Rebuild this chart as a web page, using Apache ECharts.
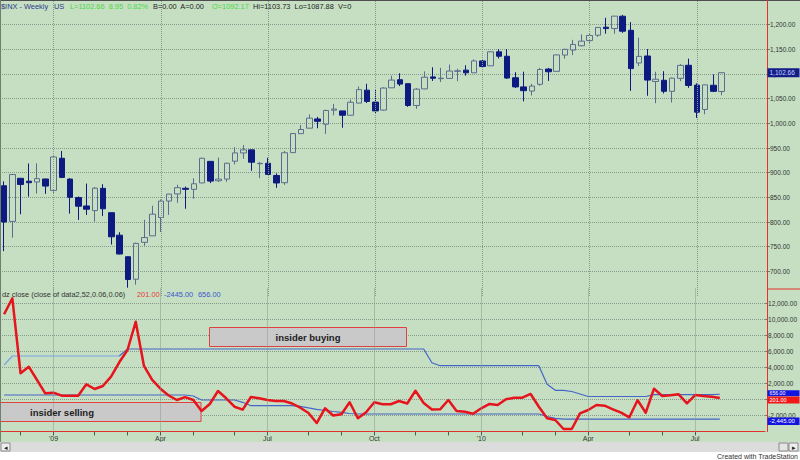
<!DOCTYPE html>
<html><head><meta charset="utf-8">
<script src="https://cdn.jsdelivr.net/npm/echarts@6/dist/echarts.min.js"></script>
<style>html,body{margin:0;padding:0;background:#fff}#c{width:800px;height:460px}</style>
</head><body><div id="c"></div>
<script>
// ---------- DATA ----------
const weeks = [
'11/21/08','11/28/08','12/05/08','12/12/08','12/19/08','12/26/08',
'01/02/09','01/09/09','01/16/09','01/23/09','01/30/09','02/06/09','02/13/09','02/20/09','02/27/09',
'03/06/09','03/13/09','03/20/09','03/27/09','04/03/09','04/10/09','04/17/09','04/24/09',
'05/01/09','05/08/09','05/15/09','05/22/09','05/29/09','06/05/09','06/12/09','06/19/09','06/26/09',
'07/03/09','07/10/09','07/17/09','07/24/09','07/31/09','08/07/09','08/14/09','08/21/09','08/28/09',
'09/04/09','09/11/09','09/18/09','09/25/09','10/02/09','10/09/09','10/16/09','10/23/09','10/30/09',
'11/06/09','11/13/09','11/20/09','11/27/09','12/04/09','12/11/09','12/18/09','12/25/09',
'01/01/10','01/08/10','01/15/10','01/22/10','01/29/10','02/05/10','02/12/10','02/19/10','02/26/10',
'03/05/10','03/12/10','03/19/10','03/26/10','04/02/10','04/09/10','04/16/10','04/23/10','04/30/10',
'05/07/10','05/14/10','05/21/10','05/28/10','06/04/10','06/11/10','06/18/10','06/25/10',
'07/02/10','07/09/10','07/16/10','07/23/10'
];
const open = [
873.5,801.2,888.6,882.7,881.1,887.2,
864.0,929.2,887.0,849.6,832.5,823.1,868.2,818.9,773.3,729.6,684.0,758.8,772.0,809.1,842.5,856.9,868.3,866.2,879.2,922.9,883.6,887.0,923.3,940.0,946.2,918.1,919.0,894.3,879.6,940.6,979.0,990.2,1008.9,998.2,1026.6,1025.2,1016.4,1041.0,1067.3,1043.0,1026.9,1072.0,1088.4,1080.4,1036.2,1069.8,1094.1,1090.5,1091.1,1105.5,1107.8,1102.5,
1126.5,1116.6,1145.0,1136.0,1092.4,1073.9,1065.5,1079.1,1110.0,1105.4,1138.4,1148.5,1157.3,1167.7,1178.7,1194.9,1192.1,1217.1,1188.6,1122.3,1136.5,1084.8,1087.3,1064.9,1091.2,1117.7,1077.5,1028.1,1077.2,1064.5
];
const high = [
882.3,896.2,888.6,918.6,918.9,887.4,
934.7,943.9,889.0,851.6,877.9,870.8,876.6,818.9,779.4,729.6,758.3,804.5,833.0,845.6,856.9,875.6,871.8,888.7,930.2,922.9,930.6,920.0,951.7,956.2,946.2,922.0,930.2,898.7,944.0,979.8,996.7,1018.0,1013.1,1027.6,1039.5,1025.2,1048.2,1074.8,1080.2,1069.6,1073.2,1096.6,1101.4,1080.4,1071.5,1105.4,1113.7,1112.4,1119.1,1110.7,1117.7,1129.6,
1130.4,1145.4,1150.4,1150.5,1103.7,1104.7,1080.0,1112.4,1112.3,1139.0,1151.0,1169.2,1180.2,1181.4,1194.7,1213.9,1217.3,1219.8,1205.1,1173.6,1150.5,1104.6,1105.7,1092.5,1120.0,1131.2,1081.0,1078.2,1099.1,1103.7
];
const low = [
741.0,768.2,815.7,851.4,857.7,857.1,
857.1,889.0,817.0,804.3,814.3,800.6,812.0,754.3,734.5,666.8,672.9,751.7,772.0,779.8,814.5,838.8,826.8,847.1,878.9,878.9,881.0,881.5,916.7,928.1,903.8,888.9,896.4,869.3,875.3,940.6,978.6,990.2,990.0,978.5,1016.2,991.0,1016.4,1040.9,1041.2,1020.0,1025.2,1072.0,1075.6,1033.4,1029.4,1069.3,1085.9,1083.7,1091.1,1085.4,1096.7,1102.5,
1114.8,1116.6,1131.4,1090.2,1071.6,1044.5,1056.5,1076.1,1086.0,1105.4,1131.3,1138.3,1156.0,1161.9,1175.1,1181.6,1181.6,1183.3,1065.8,1116.0,1055.9,1040.8,1060.5,1042.2,1085.5,1071.9,1010.9,1018.4,1063.3,1056.9
];
const close = [
800.0,896.2,876.1,879.7,887.9,872.8,
931.8,890.4,850.1,832.0,825.9,868.6,826.8,770.0,735.1,683.4,756.6,768.5,815.9,842.5,856.6,869.6,866.2,877.5,929.2,882.9,887.0,919.1,940.1,946.2,921.2,918.9,896.4,879.1,940.4,979.3,987.5,1010.5,1004.1,1026.1,1028.9,1016.4,1042.7,1068.3,1044.4,1025.2,1071.5,1087.7,1079.6,1036.2,1069.3,1093.5,1091.4,1091.5,1106.0,1106.4,1102.5,1126.5,
1115.1,1145.0,1136.0,1091.8,1073.9,1066.2,1075.5,1109.2,1104.5,1138.7,1150.0,1159.9,1166.6,1178.1,1194.4,1192.1,1217.3,1186.7,1110.9,1135.7,1087.7,1089.4,1064.9,1091.6,1117.5,1076.8,1022.6,1078.0,1064.9,1102.66
];
// dz close indicator (red) and its dynamic zones (blue)
const dzClose = [
10650,12650,3275,4100,2440,775,850,475,475,475,1900,1310,1690,2850,4650,6190,9725,4190,2440,1350,
500,-60,290,-60,-1440,-560,1060,150,-900,-1270,310,150,-60,-190,-190,-500,-1025,-1690,-2940,-1100,
-2000,-1850,-350,-2350,-1600,-350,-590,-590,-190,-500,1100,-440,-1250,-1225,-60,-1440,-1525,-1775,-1100,-560,
-690,25,225,225,690,-900,-2350,-2560,-3690,-3690,-1725,-1310,-690,-775,-1225,-1650,-2225,-100,-1650,1350,
440,525,650,-475,560,440,350,201
];
const upperZone = [
4310,5440,5440,5440,5440,5440,5440,5440,5440,5440,5440,5440,5440,5440,5440,6310,6310,6310,6310,6310,
6310,6310,6310,6310,6310,6310,6310,6310,6310,6310,6310,6310,6310,6310,6310,6310,6310,6310,6310,6310,
6310,6310,6310,6310,6310,6310,6310,6310,6310,6310,6310,6310,4600,4225,4225,4225,4225,4225,4225,4225,
4225,4225,4225,4225,4225,4225,1900,1150,1150,1000,690,375,375,375,375,375,375,375,375,600,
620,620,620,620,620,620,620,656
];
const lowerZone = [
560,560,560,560,560,560,560,560,560,560,560,560,560,560,560,560,560,560,560,560,
560,560,560,440,-60,-60,-60,-60,-60,-350,-775,-775,-775,-775,-775,-775,-850,-1040,-1225,-1375,
-1500,-1600,-1750,-1810,-1810,-1810,-1810,-1810,-1810,-1810,-1810,-1810,-1810,-1810,-1810,-1810,-1810,-1810,-1810,-1810,
-1810,-1810,-1810,-1810,-1810,-1810,-2125,-2350,-2445,-2445,-2445,-2445,-2445,-2445,-2445,-2445,-2445,-2445,-2445,-2445,
-2445,-2445,-2445,-2445,-2445,-2445,-2445,-2445
];
const quarterWeeks = ['01/02/09','04/03/09','07/03/09','10/02/09','01/01/10','04/02/10','07/02/10'];
const quarterLabels = ["'09",'Apr','Jul','Oct',"'10",'Apr','Jul'];
const padWeeks = ['p1','p2','p3','p4','p5'];

// ---------- CHART ----------
const BG = '#c6dfc2', GRIDC = '#87998a', RED = '#e3322c';
const FONT = 'Liberation Sans, Arial, Helvetica, sans-serif';
const fmt2 = v => Number(v).toLocaleString('en-US', {minimumFractionDigits: 2, maximumFractionDigits: 2});
const cats = weeks.concat(padWeeks);
const quarterIdx = quarterWeeks.map(w => weeks.indexOf(w));
const monthIdx = new Set();
weeks.forEach((w, i) => { if (i > 0 && w.slice(0, 2) !== weeks[i - 1].slice(0, 2)) monthIdx.add(i); });
const candles = weeks.map((w, i) => [open[i], close[i], low[i], high[i]]);
const splitAt = 14;
const upperLight = upperZone.map((v, i) => i <= splitAt ? v : null);
const upperDark = upperZone.map((v, i) => i >= splitAt ? v : null);

const vGrid = {
  silent: true, symbol: ['none', 'none'], label: {show: false}, animation: false,
  lineStyle: {color: GRIDC, type: 'dotted', width: 1},
  emphasis: {disabled: true},
  data: quarterWeeks.map(w => ({xAxis: w}))
};

const chart = echarts.init(document.getElementById('c'), null, {renderer: 'svg', width: 800, height: 460});
const yAxisCommon = (hideZero) => ({
  position: 'right',
  axisLine: {show: false},
  axisTick: {show: true, length: 3, lineStyle: {color: '#6d7d6b'}},
  axisLabel: {fontSize: 6.5, color: '#333', margin: 3, fontFamily: FONT,
    formatter: v => (hideZero && v === 0) ? '' : fmt2(v), showMinLabel: false, showMaxLabel: false},
  splitLine: {show: true, showMinLine: false, showMaxLine: false, lineStyle: {color: GRIDC, type: 'dotted', width: 1}}
});
chart.setOption({
  animation: false,
  backgroundColor: BG,
  textStyle: {fontFamily: FONT},
  grid: [
    {left: -1, right: 33, top: -4, height: 300},
    {left: -1, right: 33, top: 287.5, height: 144}
  ],
  xAxis: [
    {type: 'category', gridIndex: 0, data: cats, boundaryGap: true,
     axisLine: {show: false, onZero: false}, axisTick: {show: false}, axisLabel: {show: false}, splitLine: {show: false}},
    {type: 'category', gridIndex: 1, data: cats, boundaryGap: true,
     axisLine: {show: true, onZero: false, lineStyle: {color: RED, width: 1}},
     axisTick: {show: true, alignWithLabel: true, length: 4, interval: (i) => monthIdx.has(i), lineStyle: {color: '#555'}},
     axisLabel: {fontSize: 7, color: '#333', margin: 3, fontFamily: FONT,
       interval: (i) => quarterIdx.indexOf(i) >= 0,
       formatter: (v, i) => { const k = quarterIdx.indexOf(i); return k >= 0 ? quarterLabels[k] : ''; }},
     splitLine: {show: false}}
  ],
  yAxis: [
    Object.assign({type: 'value', gridIndex: 0, min: 650, max: 1250, interval: 50}, yAxisCommon(false)),
    Object.assign({type: 'value', gridIndex: 1, min: -4000, max: 14000, interval: 2000}, yAxisCommon(true))
  ],
  series: [
    {type: 'candlestick', xAxisIndex: 0, yAxisIndex: 0, data: candles, barWidth: 6,
     itemStyle: {color: 'rgba(0,0,0,0)', color0: '#0d1b80', borderColor: '#5a6d8e', borderColor0: '#0d1b80', borderWidth: 1},
     markLine: vGrid},
    {type: 'line', xAxisIndex: 1, yAxisIndex: 1, data: upperLight, symbol: 'none', connectNulls: false,
     lineStyle: {color: '#78a3e6', width: 1.2}, z: 3},
    {type: 'line', xAxisIndex: 1, yAxisIndex: 1, data: upperDark, symbol: 'none', connectNulls: false,
     lineStyle: {color: '#4466c8', width: 1.2}, z: 3},
    {type: 'line', xAxisIndex: 1, yAxisIndex: 1, data: lowerZone, symbol: 'none',
     lineStyle: {color: '#4466c8', width: 1.2}, z: 3},
    {type: 'line', xAxisIndex: 1, yAxisIndex: 1, data: dzClose, symbol: 'none',
     lineStyle: {color: '#e6141c', width: 2.5, join: 'round'}, z: 4, markLine: vGrid}
  ]
});

// ---------- decorations / annotations ----------
const txt = (x, y, s, fill, size, extra) => ({type: 'text', x: x, y: y, z: 50,
  style: {text: s, fill: fill, font: (extra && extra.bold ? 'bold ' : '') + size + 'px ' + FONT,
          textAlign: (extra && extra.align) || 'left', textVerticalAlign: 'middle'}});
const rect = (x, y, w, h, fill, stroke, z) => ({type: 'rect', z: z || 1, shape: {x: x, y: y, width: w, height: h},
  style: {fill: fill, stroke: stroke || null, lineWidth: stroke ? 1 : 0}});

// right-axis value markers, placed from each value's pixel on its axis
const marker = (axisIdx, value, fill, color, top, h, size) => {
  const y = chart.convertToPixel({yAxisIndex: axisIdx}, value);
  const t = y + top;
  const el = txt(769.5, t + h / 2, fmt2(value), color, size);
  el.z = 61;
  return [rect(767.5, t, 32, h, fill, null, 60), el];
};

const HF = 7.4;
const g = [
  rect(0, 0, 800, 1, '#4d4d4d', null, 40),
  rect(0, 0, 1, 442, '#6f7f6f', null, 40),
  rect(767, 0, 1, 432, RED, null, 40),
  rect(767, 288.5, 33, 1, RED, null, 40),
  rect(0, 442, 800, 10, '#dcdcdc', null, 40),
  rect(0, 452, 800, 8, '#ffffff', null, 40),
  rect(1, 443, 9, 8, '#eeeeee', '#8a8a8a', 41),
  rect(779, 443, 9, 8, '#e4e4e4', '#8a8a8a', 41),
  rect(789, 443, 9, 8, '#eeeeee', '#8a8a8a', 41),
  txt(5.5, 447.5, '◂', '#222', 7, {align: 'center'}),
  txt(793.5, 447.5, '▸', '#222', 7, {align: 'center'}),
  txt(798, 456.5, 'Created with TradeStation', '#333', 7, {align: 'right'}),
  // header of price pane
  txt(1, 6.5, '$INX - Weekly', '#2a3a8c', HF),
  txt(54, 6.5, 'US', '#2a3a8c', HF),
  txt(70, 6.5, 'L=1102.66  8.95  0.82%', '#46d846', HF),
  txt(153, 6.5, 'B=0.00  A=0.00', '#222', HF),
  txt(212, 6.5, 'O=1092.17', '#46d846', HF),
  txt(253, 6.5, 'Hi=1103.73  Lo=1087.88  V=0', '#222', HF),
  // header of indicator pane
  txt(2, 294, 'dz close (close of data2,52,0.06,0.06)', '#333', HF),
  txt(137, 294, '201.00', '#e83a3a', HF),
  txt(164, 294, '-2445.00', '#3a55d0', HF),
  txt(198, 294, '656.00', '#3a55d0', HF),
  // annotation boxes
  rect(209.5, 327.5, 197, 19, '#c9c9c9', '#e04040', 1),
  txt(308, 337, 'insider buying', '#222', 9.5, {bold: true, align: 'center'}),
  rect(0, 402.5, 201, 19, '#c9c9c9', '#e04040', 1),
  txt(62, 412, 'insider selling', '#222', 9.5, {bold: true, align: 'center'})
];
const lastI = weeks.length - 1;
const markers = [].concat(
  marker(0, close[lastI], '#121d8a', '#c9d3ff', -4.5, 9, 6.5),
  marker(1, upperZone[lastI], '#1414e0', '#ffffff', -4, 6, 5.2),
  marker(1, dzClose[lastI], '#f01818', '#ffffff', -1.5, 7, 5.6),
  marker(1, lowerZone[lastI], '#1414e0', '#ffffff', -1.5, 7.5, 6)
);
chart.setOption({graphic: g.concat(markers)});
</script>
</body></html>
